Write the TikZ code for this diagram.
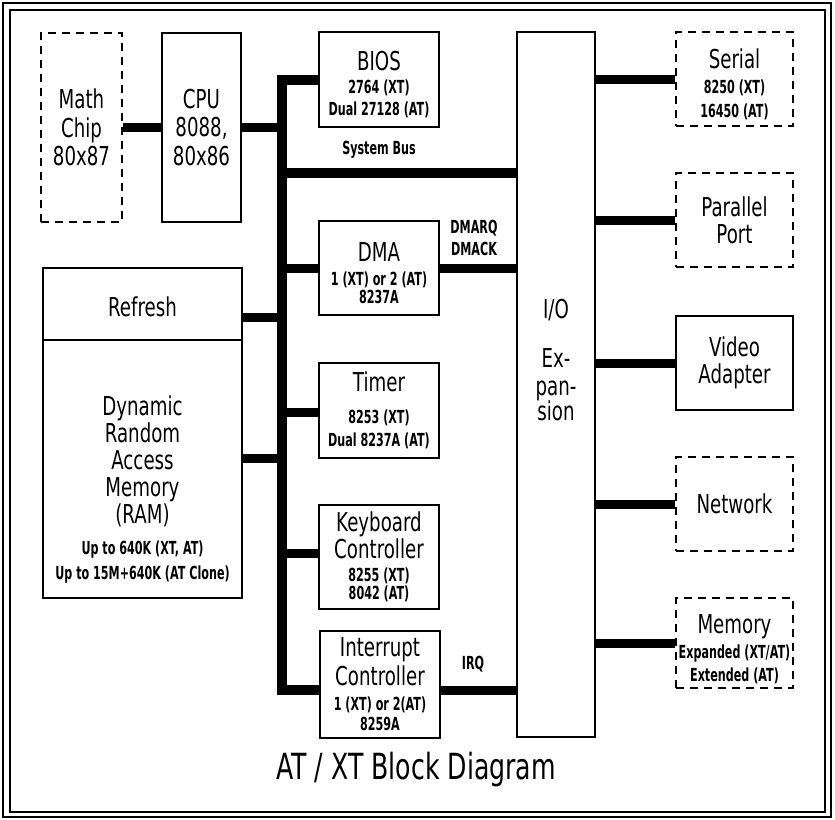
\documentclass[tikz,border=0pt]{standalone}
\usepackage{fontspec}
\setmainfont[FakeStretch=0.7]{DejaVu Sans}
\newfontfamily\dsmfont[FakeStretch=0.62]{DejaVu Sans}
\newcommand\dbig{\fontsize{26}{28.5}\selectfont}
\newcommand\dsm{\dsmfont\bfseries\fontsize{18}{20}\selectfont}
\newcommand\dtop[1]{\rule{0pt}{#1}}
\tikzset{
  dbox/.style={draw=black, line width=1.4pt, fill=white, align=center,
               inner sep=0pt, font=\dbig},
  ddash/.style={dbox, dash pattern=on 8pt off 6pt, line width=1.6pt},
  dbus/.style={line width=10pt, line join=miter},
  dlink/.style={line width=9pt},
  dlbl/.style={font=\dsm, align=center},
}

\begin{document}
\begin{tikzpicture}[x=1pt,y=-1pt]
  \useasboundingbox (0,0) rectangle (835,819);

  % ---- frame ----
  \draw[line width=1.8pt] (3,3) rectangle (831,817);
  \draw[line width=1.5pt] (10,10) rectangle (825,812);

  % ---- left column ----
  \node[ddash, minimum width=81pt, minimum height=189pt] (math) at (81.5,127.5)
    {Math\\Chip\\80x87};
  \node[dbox, minimum width=79pt, minimum height=189pt] (cpu) at (201.5,127.5)
    {CPU\\8088,\\80x86};
  \node[dbox, minimum width=199pt, minimum height=72pt, text height=25pt]
    (refresh) at (142.5,304) {Refresh};
  \node[dbox, minimum width=199pt, minimum height=258pt,
        label={[font=\dbig, align=center, yshift=-20pt]center:Dynamic\\[-1.5pt]Random\\[-1.5pt]Access\\[-1.5pt]Memory\\[-1.5pt](RAM)\\[2.5pt]
          \dsm Up to 640K (XT, AT)\\[-3.5pt]\dsm Up to 15M+640K (AT Clone)}]
    (dram) at (142.5,469) {};

  % ---- middle column ----
  \node[dbox, minimum width=120pt, minimum height=95pt] (bios) at (379,79.5)
    {\dtop{29pt}BIOS\\[-5.5pt]\dsm 2764 (XT)\\[-6.5pt]\dsm Dual 27128 (AT)};
  \node[dbox, minimum width=120pt, minimum height=94pt] (dma) at (379,268)
    {\dtop{29pt}DMA\\[-4.5pt]\dsm 1 (XT) or 2 (AT)\\[-10.5pt]\dsm 8237A};
  \node[dbox, minimum width=120pt, minimum height=95pt] (timer) at (379,410.5)
    {Timer\\[3.5pt]\dsm 8253 (XT)\\[-5.5pt]\dsm Dual 8237A (AT)};
  \node[dbox, minimum width=120pt, minimum height=104pt] (kbd) at (379,557)
    {Keyboard\\[-1.5pt]Controller\\[-5.5pt]\dsm 8255 (XT)\\[-10.5pt]\dsm 8042 (AT)};
  \node[dbox, minimum width=120pt, minimum height=107pt] (intc) at (380,684.5)
    {Interrupt\\[0.5pt]Controller\\[-3.5pt]\dsm 1 (XT) or 2(AT)\\[-8.5pt]\dsm 8259A};

  % ---- I/O expansion ----
  \node[dbox, minimum width=78pt, minimum height=705pt,
        label={[font=\dbig, align=center, yshift=24.5pt]center:I/O\\[20.5pt]Ex-\\[-0.5pt]pan-\\[-3.5pt]sion}]
    (io) at (556,384.5) {};

  % ---- right column ----
  \node[ddash, minimum width=117pt, minimum height=94pt] (serial) at (734.5,79)
    {\dtop{30pt}Serial\\[-3.5pt]\dsm 8250 (XT)\\[-4.5pt]\dsm 16450 (AT)};
  \node[ddash, minimum width=117pt, minimum height=94pt] (parallel) at (734.5,220)
    {Parallel\\[-1.5pt]Port};
  \node[dbox, minimum width=117pt, minimum height=94pt] (video) at (734.5,363)
    {Video\\[-1.5pt]Adapter};
  \node[ddash, minimum width=117pt, minimum height=94pt] (network) at (734.5,504)
    {Network};
  \node[ddash, minimum width=117pt, minimum height=90pt] (memory) at (734.5,643)
    {\dtop{31pt}Memory\\[-3.5pt]\dsm Expanded (XT/AT)\\[-5.5pt]\dsm Extended (AT)};

  % ---- bus ----
  \coordinate (bus) at (282,0);
  \coordinate (busend) at (282,690);
  \coordinate (sysbus) at (282,173);
  \draw[dbus] (bios.west) -| (busend) -- (busend -| intc.west);
  \draw[dbus] (sysbus) -- (sysbus -| io.west);
  \draw[dlink] (math.east) -- (cpu.west);
  \draw[dlink] (cpu.east) -- (cpu.east -| bus);
  \draw[dlink] ([yshift=-13pt]refresh.east) -- ([yshift=-13pt]refresh.east -| bus);
  \draw[dlink] ([yshift=11pt]dram.east) -- ([yshift=11pt]dram.east -| bus);
  \foreach \n/\s in {dma/0,timer/-1.5,kbd/4}
    \draw[dlink] ([yshift=\s pt]\n.west) -- ([yshift=\s pt]\n.west -| bus);
  \draw[dlink] (dma.east) -- (dma.east -| io.west);
  \draw[dlink] (busend -| intc.east) -- (busend -| io.west);
  \foreach \n in {serial,parallel,video,network,memory}
    \draw[dlink] (\n.west -| io.east) -- (\n.west);

  % ---- labels ----
  \node[dlbl] (sysbuslbl) at (379,150) {System Bus};
  \node[dlbl] (dmalbl) at (474,238) {DMARQ\\[2pt]DMACK};
  \node[dlbl] (irqlbl) at (473,664) {IRQ};
  \node[font=\fontsize{36}{40}\selectfont] (title) at (416,770) {AT / XT Block Diagram};

\end{tikzpicture}
\end{document}
